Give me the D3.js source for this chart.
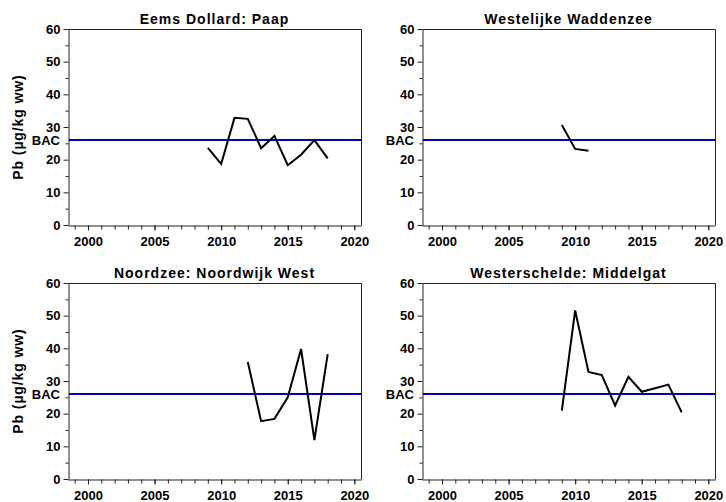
<!DOCTYPE html>
<html>
<head>
<meta charset="utf-8">
<script src="https://cdn.jsdelivr.net/npm/d3@7"></script>
<style>
  body { margin: 0; background: #fff; }
  text { font-family: "Liberation Sans", Arial, sans-serif; font-weight: bold; fill: #000; }
</style>
</head>
<body>
<div id="container"></div>
<script>
/* CONSTANTS AND GLOBALS */
const width = 726;
const height = 502;
const bac = 26;
const yTicks = [0, 10, 20, 30, 40, 50, 60];
const yMinor = [5, 15, 25, 35, 45, 55];
const xTicks = [2000, 2005, 2010, 2015, 2020];
const xMinor = d3.range(1999, 2021);

/* DATA */
const titles = ["Eems Dollard: Paap", "Westelijke Waddenzee", "Noordzee: Noordwijk West", "Westerschelde: Middelgat"];
const eemsYears = [2009, 2010, 2011, 2012, 2013, 2014, 2015, 2016, 2017, 2018];
const eemsPb = [23.6, 18.7, 32.8, 32.5, 23.5, 27.3, 18.3, 21.5, 26.0, 20.4];
const waddenYears = [2009, 2010, 2011];
const waddenPb = [30.6, 23.3, 22.7];
const noordwijkYears = [2012, 2013, 2014, 2015, 2016, 2017, 2018];
const noordwijkPb = [35.8, 17.7, 18.4, 25.0, 39.8, 11.9, 38.2];
const middelgatYears = [2009, 2010, 2011, 2012, 2013, 2014, 2015, 2016, 2017, 2018];
const middelgatPb = [20.9, 51.6, 32.8, 31.8, 22.5, 31.3, 26.7, 27.8, 28.9, 20.4];

const panels = [
  { title: titles[0], years: eemsYears, values: eemsPb, x0: 68, y0: 29, ylabel: true },
  { title: titles[1], years: waddenYears, values: waddenPb, x0: 422, y0: 29, ylabel: false },
  { title: titles[2], years: noordwijkYears, values: noordwijkPb, x0: 68, y0: 283, ylabel: true },
  { title: titles[3], years: middelgatYears, values: middelgatPb, x0: 422, y0: 283, ylabel: false }
];
const pw = 293, ph = 196;

const svg = d3.select("#container")
  .append("svg")
  .attr("width", width)
  .attr("height", height);

panels.forEach(p => {
  const g = svg.append("g").attr("transform", `translate(${p.x0},${p.y0})`);

  /* SCALES */
  const xScale = d3.scaleLinear().domain([1998.5, 2020.5]).range([0, pw]);
  const yScale = d3.scaleLinear().domain([0, 60]).range([ph, 0]);

  // frame (top and right)
  g.append("path")
    .attr("d", `M0.5,0.5H${pw + 0.5}V${ph + 0.5}`)
    .attr("fill", "none")
    .attr("stroke", "#222");

  // y axis
  g.append("g")
    .attr("transform", "translate(0.5,0)")
    .call(d3.axisLeft(yScale).tickValues(yTicks).tickSize(5).tickSizeOuter(0).tickPadding(3))
    .call(a => a.selectAll("text").style("font-size", "13px").style("font-family", "Liberation Sans, Arial").attr("font-weight", "bold"))
    .call(a => a.selectAll("path,line").attr("stroke", "#222"));
  g.append("g")
    .attr("transform", "translate(0.5,0)")
    .call(d3.axisLeft(yScale).tickValues(yMinor).tickSize(3).tickFormat(""))
    .call(a => a.select(".domain").remove())
    .call(a => a.selectAll("line").attr("stroke", "#222"));

  // x axis
  g.append("g")
    .attr("transform", `translate(0,${ph + 0.5})`)
    .call(d3.axisBottom(xScale).tickValues(xTicks).tickSize(5).tickSizeOuter(0).tickPadding(6).tickFormat(d3.format("d")))
    .call(a => a.selectAll("text").style("font-size", "13px").style("font-family", "Liberation Sans, Arial").attr("font-weight", "bold"))
    .call(a => a.selectAll("path,line").attr("stroke", "#222"));
  g.append("g")
    .attr("transform", `translate(0,${ph + 0.5})`)
    .call(d3.axisBottom(xScale).tickValues(xMinor).tickSize(4).tickFormat(""))
    .call(a => a.select(".domain").remove())
    .call(a => a.selectAll("line").attr("stroke", "#222"));

  // BAC line and label
  g.append("line")
    .attr("x1", 1).attr("x2", pw)
    .attr("y1", yScale(bac)).attr("y2", yScale(bac))
    .attr("stroke", "#0000c4")
    .attr("stroke-width", 2);
  g.append("text")
    .attr("x", -8)
    .attr("y", yScale(bac))
    .attr("dy", "0.38em")
    .attr("text-anchor", "end")
    .style("font-size", "13px")
    .text("BAC");

  // data line
  const line = d3.line()
    .x((d, i) => xScale(p.years[i]))
    .y(d => yScale(d));
  g.append("path")
    .datum(p.values)
    .attr("d", line)
    .attr("fill", "none")
    .attr("stroke", "#000")
    .attr("stroke-width", 2);

  // title
  g.append("text")
    .attr("x", pw / 2)
    .attr("y", -5)
    .attr("text-anchor", "middle")
    .style("font-size", "14px")
    .style("letter-spacing", "1px")
    .text(p.title);

  // y label
  if (p.ylabel) {
    g.append("text")
      .attr("transform", `translate(${-45},${ph / 2}) rotate(-90)`)
      .attr("text-anchor", "middle")
      .style("font-size", "14px")
      .style("letter-spacing", "0.9px")
      .text("Pb (µg/kg ww)");
  }
});
</script>
</body>
</html>
